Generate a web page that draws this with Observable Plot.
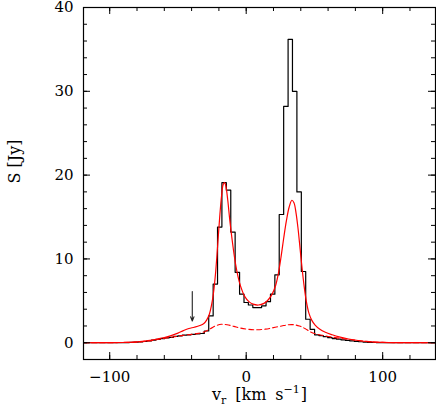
<!DOCTYPE html>
<html>
<head>
<meta charset="utf-8">
<script src="https://cdn.jsdelivr.net/npm/d3@7"></script>
<script src="https://cdn.jsdelivr.net/npm/@observablehq/plot@0.6"></script>
<style>
  html, body { margin: 0; padding: 0; background: #fff; }
  #chart svg { display: block; }
</style>
</head>
<body>
<div id="chart"></div>
<script>
// Channel velocities (km/s) of the observed spectrum (histogram)
const chanVel = [-119.5,-116.3,-113.1,-109.8,-106.6,-103.4,-100.1,-96.9,-93.7,-90.4,-87.2,-84.0,-80.8,-77.5,-74.3,-71.1,-67.8,-64.6,-61.4,-58.1,-54.9,-51.7,-48.5,-45.2,-42.0,-38.8,-35.5,-32.3,-29.1,-25.8,-22.6,-19.4,-16.2,-12.9,-9.7,-6.5,-3.2,0.0,3.2,6.5,9.7,12.9,16.2,19.4,22.6,25.8,29.1,32.3,35.5,38.8,42.0,45.2,48.5,51.7,54.9,58.1,61.4,64.6,67.8,71.1,74.3,77.5,80.8,84.0,87.2,90.4,93.7,96.9,100.1,103.4,106.6,109.8,113.1,116.3,119.5,122.7,126.0,129.2,132.4,135.7,138.9];
// Observed flux density (Jy) per channel
const chanFlux = [0,0,0,0,0,0,0,0,0.01,0.01,0.02,0.04,0.07,0.1,0.15,0.22,0.3,0.4,0.48,0.57,0.65,0.75,0.82,0.9,0.95,1.0,1.05,1.1,1.4,3.2,7.0,13.8,19.1,18.2,13.2,8.4,5.8,4.8,4.5,4.2,4.2,4.4,4.9,5.8,8.1,15.3,28.2,36.2,30.0,18.0,8.5,2.8,1.6,0.95,0.85,0.72,0.6,0.5,0.42,0.35,0.28,0.22,0.17,0.12,0.08,0.05,0.03,0.02,0.01,0,0,0,0,0,0,0,0,0,0,0,0];

// Model fit (red solid)
const modelVel = [-119,-100,-90,-80,-72,-65,-60,-55,-50,-46,-42,-38,-34,-31,-29,-27,-25.5,-24,-22.5,-21,-19.5,-18,-16.8,-15.8,-14.8,-13.5,-12,-10,-8,-6,-4,-1,2,5,9,13,16,19,21.5,23.5,25.5,27.5,29.5,31.5,33.5,35,36.5,38,39.5,41,42.5,44,46,48,50.5,54,58,63,68,75,82,90,100,115,139];
const modelFlux = [0,0.01,0.03,0.1,0.25,0.45,0.62,0.85,1.15,1.45,1.7,1.85,2.05,2.3,2.7,3.4,4.4,5.9,8.2,11.4,14.8,17.6,18.9,19.1,18.6,17.0,14.6,11.9,9.6,7.9,6.7,5.5,4.9,4.6,4.5,4.7,5.1,5.8,6.8,8.2,10.2,12.5,14.6,16.2,17.0,16.7,15.5,13.6,11.2,8.8,6.7,5.0,3.5,2.7,2.1,1.6,1.25,0.95,0.7,0.45,0.27,0.13,0.04,0.01,0];

// Broad component (red dashed)
const broadVel = [-119,-100,-90,-80,-72,-65,-58,-52,-46,-40,-35,-30,-26,-22,-18,-14,-9,-4,2,8,14,20,26,31,35,39,43,47,51,56,62,68,75,82,90,100,115,139];
const broadFlux = [0,0.01,0.03,0.08,0.2,0.38,0.57,0.73,0.88,1.0,1.12,1.35,1.7,2.05,2.2,2.15,1.95,1.75,1.6,1.55,1.62,1.8,2.0,2.15,2.15,2.0,1.7,1.3,1.05,0.88,0.7,0.55,0.4,0.26,0.13,0.04,0.01,0];

// Arrow marker (velocity, flux top, flux tip)
const arrowMark = [{v: -39.5, top: 6.1, tip: 2.6}];

// Ticks
const xMajor = [-100, 0, 100];
const xMinor = [-100,-80,-60,-40,-20,0,20,40,60,80,100,120];
const yMajor = [0, 10, 20, 30, 40];
const yMinor = [0,2,4,6,8,10,12,14,16,18,20,22,24,26,28,30,32,34,36,38,40];

const yLabel = "S [Jy]";
const xLabel = "vr [km s−1]";

const W = 436, H = 407;
const mL = 83, mR = 1, mT = 7, mB = 48;
const pw = W - mL - mR, ph = H - mT - mB;
const majLen = 7, minLen = 4;

const spec = chanVel.map((v, i) => ({v, s: chanFlux[i]}));
const model = modelVel.map((v, i) => ({v, s: modelFlux[i]}));
const broad = broadVel.map((v, i) => ({v, s: broadFlux[i]}));

const chart = Plot.plot({
  width: W,
  height: H,
  marginLeft: mL,
  marginRight: mR,
  marginTop: mT,
  marginBottom: mB,
  style: {fontFamily: "'DejaVu Serif', serif", fontSize: "15px", background: "#fff", color: "#000", overflow: "visible"},
  x: {domain: [-119.2, 138.7]},
  y: {domain: [-2, 40]},
  marks: [
    Plot.line(spec, {x: "v", y: "s", curve: "step", stroke: "black", strokeWidth: 1.2, clip: true}),
    Plot.line(broad, {x: "v", y: "s", curve: "catmull-rom", stroke: "#ff0000", strokeWidth: 1.1, strokeDasharray: "5,3", clip: true}),
    Plot.line(model, {x: "v", y: "s", curve: "catmull-rom", stroke: "#ff0000", strokeWidth: 1.2, clip: true}),
    Plot.arrow(arrowMark, {x1: "v", y1: "top", x2: "v", y2: "tip", stroke: "#222", strokeWidth: 1.1, headLength: 6, headAngle: 45}),
    // inward ticks
    Plot.tickX(xMinor, {x: d => d, insetTop: ph - minLen, stroke: "black"}),
    Plot.tickX(xMinor, {x: d => d, insetBottom: ph - minLen, stroke: "black"}),
    Plot.tickX(xMajor, {x: d => d, insetTop: ph - majLen, stroke: "black"}),
    Plot.tickX(xMajor, {x: d => d, insetBottom: ph - majLen, stroke: "black"}),
    Plot.tickY(yMinor, {y: d => d, insetRight: pw - minLen, stroke: "black"}),
    Plot.tickY(yMinor, {y: d => d, insetLeft: pw - minLen, stroke: "black"}),
    Plot.tickY(yMajor, {y: d => d, insetRight: pw - majLen, stroke: "black"}),
    Plot.tickY(yMajor, {y: d => d, insetLeft: pw - majLen, stroke: "black"}),
    Plot.axisX(xMajor, {tickSize: 0, tickPadding: 12, label: null, fontSize: 15}),
    Plot.axisY(yMajor, {tickSize: 0, tickPadding: 10, label: null, fontSize: 15}),
    Plot.frame({stroke: "black", strokeWidth: 1.2}),
    Plot.text([yLabel], {frameAnchor: "left", dx: 14 - mL, rotate: -90, fontSize: 16, fill: "black"}),
    Plot.text([xLabel], {frameAnchor: "bottom", lineAnchor: "middle", dy: 35, fontSize: 16, fill: "black"})
  ]
});

// Rich formatting of the x label (subscript / superscript)
d3.select(chart).selectAll("text").filter(function() { return this.textContent === xLabel; }).each(function() {
  const t = d3.select(this);
  t.text(null);
  t.append("tspan").text("v");
  t.append("tspan").attr("dy", 4).attr("font-size", 11).text("r");
  t.append("tspan").attr("dy", -4).attr("dx", 9).text("[km");
  t.append("tspan").attr("dx", 9).text("s");
  t.append("tspan").attr("dy", -7).attr("font-size", 11).text("−1");
  t.append("tspan").attr("dy", 7).attr("dx", 1).text("]");
});

document.getElementById("chart").appendChild(chart);
</script>
</body>
</html>
